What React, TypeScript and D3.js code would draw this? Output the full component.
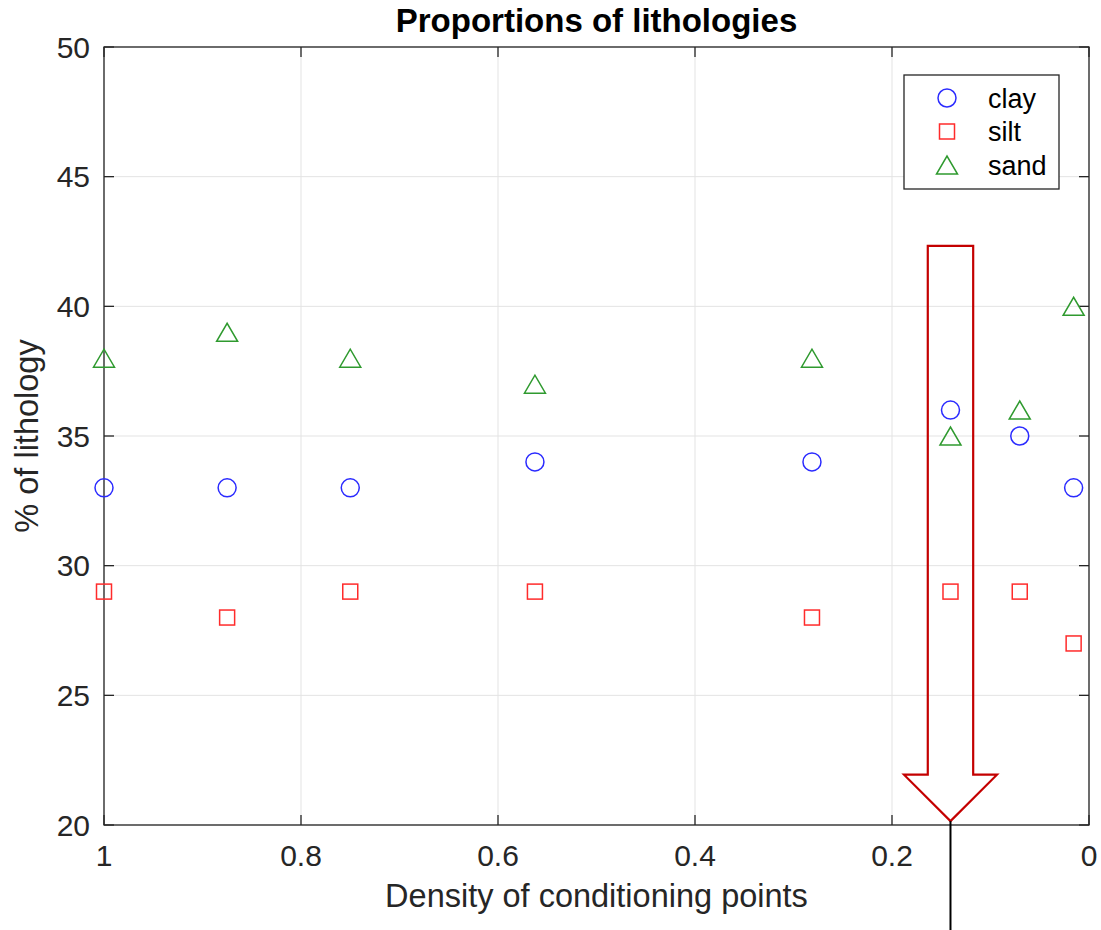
import React from 'react';
import * as d3 from 'd3';

// densities of conditioning points (x axis, reversed)
const densities = [1, 0.875, 0.75, 0.5625, 0.28125, 0.140625, 0.0703, 0.0156];
const clay = [33, 33, 33, 34, 34, 36, 35, 33];
const silt = [29, 28, 29, 29, 28, 29, 29, 27];
const sand = [38, 39, 38, 37, 38, 35, 36, 40];

const xTicks = [1, 0.8, 0.6, 0.4, 0.2, 0];
const yTicks = [20, 25, 30, 35, 40, 45, 50];
const xTickLabels = ['1', '0.8', '0.6', '0.4', '0.2', '0'];

// highlighted density (arrow)
const arrowDensity = 0.140625;

const W = 1101;
const H = 930;
const margin = { top: 47, right: 12, bottom: 105, left: 104 };

const font = '"Liberation Sans", Arial, Helvetica, sans-serif';
const axisColor = '#262626';
const gridColor = '#e3e3e3';
const blue = '#2b2bff';
const red = '#ff2b2b';
const green = '#2f9a2f';

const App: React.FC = () => {
  const x = d3.scaleLinear().domain([1, 0]).range([margin.left, W - margin.right]);
  const y = d3.scaleLinear().domain([20, 50]).range([H - margin.bottom, margin.top]);

  const x0 = x(1);
  const x1 = x(0);
  const y0 = y(20);
  const y1 = y(50);
  const tick = 10;

  const tri = (cx: number, cy: number, w = 21, h = 18) =>
    `M${cx - w / 2},${cy + h / 2}L${cx + w / 2},${cy + h / 2}L${cx},${cy - h / 2}Z`;

  // arrow geometry
  const ax = x(arrowDensity);
  const shaftHalf = 22.7;
  const headHalf = 46.5;
  const aTop = y(42.33);
  const aShoulder = y(21.94);
  const aTip = y(20.15);
  const arrowPath = [
    [ax - shaftHalf, aTop],
    [ax + shaftHalf, aTop],
    [ax + shaftHalf, aShoulder],
    [ax + headHalf, aShoulder],
    [ax, aTip],
    [ax - headHalf, aShoulder],
    [ax - shaftHalf, aShoulder],
  ];

  const legendItems = [
    { name: 'clay', kind: 'circle', color: blue },
    { name: 'silt', kind: 'square', color: red },
    { name: 'sand', kind: 'tri', color: green },
  ];
  const lg = { x: 904, y: 75, w: 155, h: 114 };

  const marker = (kind: string, color: string, cx: number, cy: number, key: string) => {
    if (kind === 'circle')
      return <circle key={key} cx={cx} cy={cy} r={9} fill="none" stroke={color} strokeWidth={1.5} />;
    if (kind === 'square')
      return <rect key={key} x={cx - 7.5} y={cy - 7.5} width={15} height={15} fill="none" stroke={color} strokeWidth={1.5} />;
    return <path key={key} d={tri(cx, cy)} fill="none" stroke={color} strokeWidth={1.5} />;
  };

  return (
    <svg width={W} height={H} viewBox={`0 0 ${W} ${H}`} style={{ position: 'absolute', left: 0, top: 0, background: '#fff' }} fontFamily={font}>
      <rect width={W} height={H} fill="#fff" />
      {/* grid */}
      <g stroke={gridColor} strokeWidth={1}>
        {xTicks.map((t) => (
          <line key={'gx' + t} x1={x(t)} x2={x(t)} y1={y0} y2={y1} />
        ))}
        {yTicks.map((t) => (
          <line key={'gy' + t} x1={x0} x2={x1} y1={y(t)} y2={y(t)} />
        ))}
      </g>

      {/* axes box + ticks */}
      <g stroke={axisColor} strokeWidth={1.3} fill="none">
        <rect x={x0} y={y1} width={x1 - x0} height={y0 - y1} />
        {xTicks.map((t) => (
          <g key={'tx' + t}>
            <line x1={x(t)} x2={x(t)} y1={y0} y2={y0 - tick} />
            <line x1={x(t)} x2={x(t)} y1={y1} y2={y1 + tick} />
          </g>
        ))}
        {yTicks.map((t) => (
          <g key={'ty' + t}>
            <line x1={x0} x2={x0 + tick} y1={y(t)} y2={y(t)} />
            <line x1={x1} x2={x1 - tick} y1={y(t)} y2={y(t)} />
          </g>
        ))}
      </g>

      {/* tick labels */}
      <g fill={axisColor} fontSize={30}>
        {xTicks.map((t, i) => (
          <text key={'lx' + t} x={x(t)} y={y0 + 41} textAnchor="middle">
            {xTickLabels[i]}
          </text>
        ))}
        {yTicks.map((t) => (
          <text key={'ly' + t} x={x0 - 14} y={y(t) + 10.5} textAnchor="end">
            {t}
          </text>
        ))}
      </g>

      {/* axis labels and title */}
      <text x={(x0 + x1) / 2} y={907} textAnchor="middle" fontSize={32.5} fill={axisColor}>
        Density of conditioning points
      </text>
      <text transform={`translate(38,${(y0 + y1) / 2}) rotate(-90)`} textAnchor="middle" fontSize={32.5} fill={axisColor}>
        % of lithology
      </text>
      <text x={(x0 + x1) / 2} y={32} textAnchor="middle" fontSize={33} fontWeight="bold" fill="#000">
        Proportions of lithologies
      </text>

      {/* data */}
      <g>
        {densities.map((d, i) => marker('circle', blue, x(d), y(clay[i]), 'c' + i))}
        {densities.map((d, i) => marker('square', red, x(d), y(silt[i]), 's' + i))}
        {densities.map((d, i) => marker('tri', green, x(d), y(sand[i]), 'n' + i))}
      </g>

      {/* arrow annotation */}
      <path d={'M' + arrowPath.map((p) => p.join(',')).join('L') + 'Z'} fill="none" stroke="#c40000" strokeWidth={2.2} />
      <line x1={ax} x2={ax} y1={aTip} y2={H} stroke="#000" strokeWidth={2} />

      {/* legend */}
      <g>
        <rect x={lg.x} y={lg.y} width={lg.w} height={lg.h} fill="#fff" stroke={axisColor} strokeWidth={1.3} />
        {legendItems.map((it, i) => {
          const cy = 98 + i * 33.5;
          return (
            <g key={it.name}>
              {marker(it.kind, it.color, 947, cy, 'lm' + i)}
              <text x={988} y={cy + 9.5} fontSize={27} fill="#000">
                {it.name}
              </text>
            </g>
          );
        })}
      </g>
    </svg>
  );
};

export default App;
